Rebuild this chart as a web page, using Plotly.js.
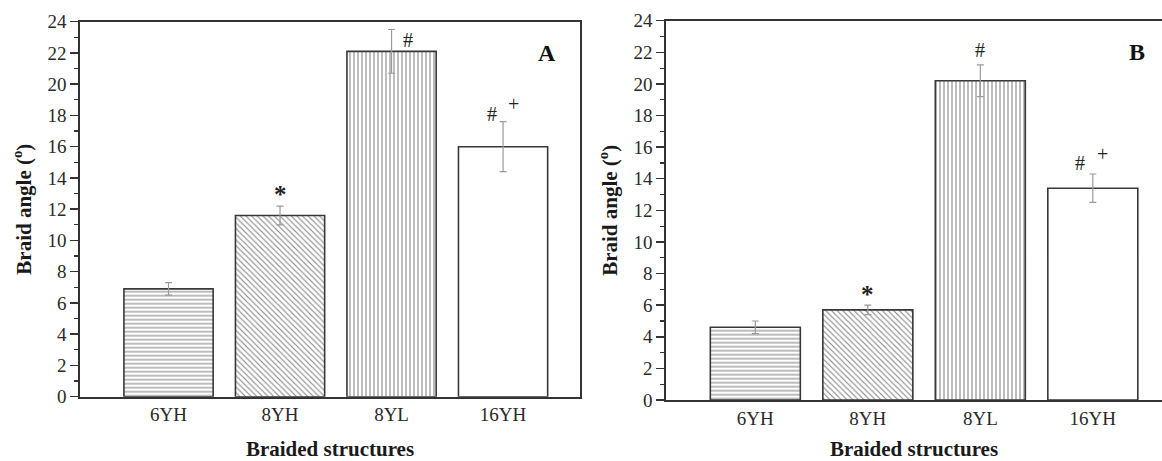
<!DOCTYPE html>
<html>
<head>
<meta charset="utf-8">
<script src="https://cdn.plot.ly/plotly-3.0.1.min.js"></script>
<style>html,body{margin:0;padding:0;background:#fff;}#chart{width:1162px;height:461px;}</style>
</head>
<body>
<div id="chart"></div>
<script>
// ---- data ----
const categories = ['6YH', '8YH', '8YL', '16YH'];
const angleA = [6.9, 11.6, 22.1, 16.0];
const errA   = [0.4, 0.6, 1.4, 1.6];
const angleB = [4.6, 5.7, 20.2, 13.4];
const errB   = [0.4, 0.3, 1.0, 0.9];
const yTickVals = [0, 2, 4, 6, 8, 10, 12, 14, 16, 18, 20, 22, 24];
const patterns = ['-', '\\', '|', ''];
const panelLabels = ['A', 'B'];
const xTitle = 'Braided structures';
const yTitle = 'Braid angle (<sup>o</sup>)';

const serif = 'Liberation Serif';
const axisCol = '#333333';

function barTrace(vals, errs, xa, ya) {
  return {
    type: 'bar', x: categories, y: vals, xaxis: xa, yaxis: ya,
    width: 0.8,
    marker: {
      color: '#ffffff',
      line: {color: '#383838', width: 1.6},
      pattern: {shape: patterns, fgcolor: '#888888', bgcolor: '#ffffff', size: 4, solidity: 0.28}
    },
    error_y: {type: 'data', array: errs, visible: true, color: '#9a9a9a', thickness: 1.2, width: 3.5},
    showlegend: false, hoverinfo: 'x+y'
  };
}

const data = [barTrace(angleA, errA, 'x', 'y'), barTrace(angleB, errB, 'x2', 'y2')];

function yAxis(domain, anchor) {
  return {
    domain: domain, anchor: anchor, range: [0, 24], tickvals: yTickVals,
    ticks: 'outside', ticklen: 8, tickwidth: 1.5, tickcolor: axisCol,
    minor: {dtick: 1, ticks: 'outside', ticklen: 4, tickwidth: 1.2, tickcolor: axisCol},
    showline: true, linecolor: axisCol, linewidth: 1.8, showgrid: false, zeroline: false,
    tickfont: {family: serif, size: 19, color: '#2a2a2a'},
    title: {text: yTitle, font: {family: serif, size: 21, color: '#1a1a1a', weight: 'bold'}, standoff: 10},
    automargin: false
  };
}
function xAxis(domain, anchor, range, mirror) {
  return {
    domain: domain, anchor: anchor, range: range, type: 'category',
    ticks: '', showline: true, linecolor: axisCol, linewidth: 1.8, mirror: mirror,
    showgrid: false, zeroline: false,
    tickfont: {family: serif, size: 19, color: '#2a2a2a'},
    title: {text: xTitle, font: {family: serif, size: 21, color: '#1a1a1a', weight: 'bold'}, standoff: 21},
    automargin: false
  };
}

const W = 1162, H = 461;
const layout = {
  width: W, height: H,
  margin: {l: 0, r: 0, t: 0, b: 0},
  paper_bgcolor: '#ffffff', plot_bgcolor: '#ffffff',
  xaxis: xAxis([80 / W, 580 / W], 'y', [-0.794, 3.69], 'all'),
  yaxis: Object.assign(yAxis([(H - 396.7) / H, (H - 21.7) / H], 'x'), {mirror: true}),
  xaxis2: xAxis([666 / W, 1], 'y2', [-0.794, 3.615], true),
  yaxis2: yAxis([(H - 400) / H, (H - 20.7) / H], 'x2'),
  bargap: 0.2,
  annotations: []
};

// significance marks (text from data, positioned relative to the error bar tops)
function mark(text, xi, vals, errs, xa, ya, xs, ys, size, bold) {
  return {
    text: text, x: categories[xi], y: vals[xi] + errs[xi], xref: xa, yref: ya,
    xshift: xs, yshift: ys, showarrow: false, xanchor: 'center', yanchor: 'middle',
    font: {family: serif, size: size, color: '#222222', weight: bold ? 'bold' : 'normal'}
  };
}
layout.annotations.push(
  mark('*', 1, angleA, errA, 'x', 'y', 0, 12, 25, true),
  mark('#', 2, angleA, errA, 'x', 'y', 16, -10, 20, false),
  mark('#', 3, angleA, errA, 'x', 'y', -11, 8, 20, false),
  mark('+', 3, angleA, errA, 'x', 'y', 10, 18, 20, false),
  mark('*', 1, angleB, errB, 'x2', 'y2', 0, 11, 25, true),
  mark('#', 2, angleB, errB, 'x2', 'y2', 0, 15, 20, false),
  mark('#', 3, angleB, errB, 'x2', 'y2', -13, 11, 20, false),
  mark('+', 3, angleB, errB, 'x2', 'y2', 10, 20, 20, false),
  {text: panelLabels[0], xref: 'x domain', yref: 'y domain', x: 0.934, y: 0.916, showarrow: false,
   xanchor: 'center', yanchor: 'middle', font: {family: serif, size: 24, color: '#111111', weight: 'bold'}},
  {text: panelLabels[1], xref: 'x2 domain', yref: 'y2 domain', x: 0.95, y: 0.917, showarrow: false,
   xanchor: 'center', yanchor: 'middle', font: {family: serif, size: 24, color: '#111111', weight: 'bold'}}
);

Plotly.newPlot('chart', data, layout, {displayModeBar: false, staticPlot: true});
</script>
</body>
</html>
